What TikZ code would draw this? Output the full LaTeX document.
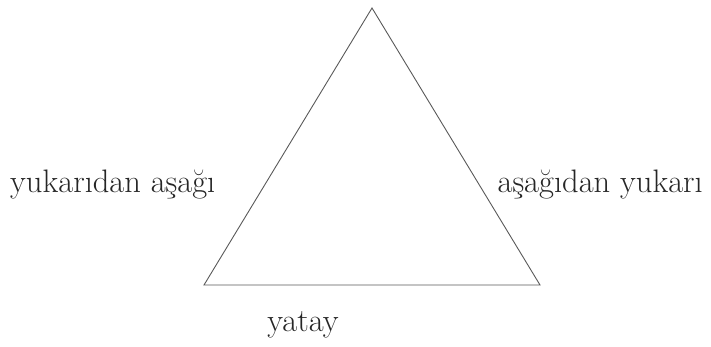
\documentclass[tikz,border=0pt]{standalone}
\usepackage{fontspec}
\tikzset{lbl/.style={inner sep=0pt, font=\fontsize{32.5}{36}\selectfont, text=black!85}}
\begin{document}
\begin{tikzpicture}[x=1pt,y=-1pt]
\useasboundingbox (0,0) rectangle (711,347);
\coordinate (top) at (372,8);
\coordinate (bl) at (204,285);
\coordinate (br) at (540,285);
\draw[black!65, line width=0.9pt, line join=miter] (top) -- (br) -- (bl) -- cycle;
\node[lbl, anchor=base west] (left) at (10,193) {yukarıdan aşağı};
\node[lbl, anchor=base east] (right) at (703,193) {aşağıdan yukarı};
\node[lbl, anchor=base] (bottom) at (303,331) {yatay};
\end{tikzpicture}
\end{document}
